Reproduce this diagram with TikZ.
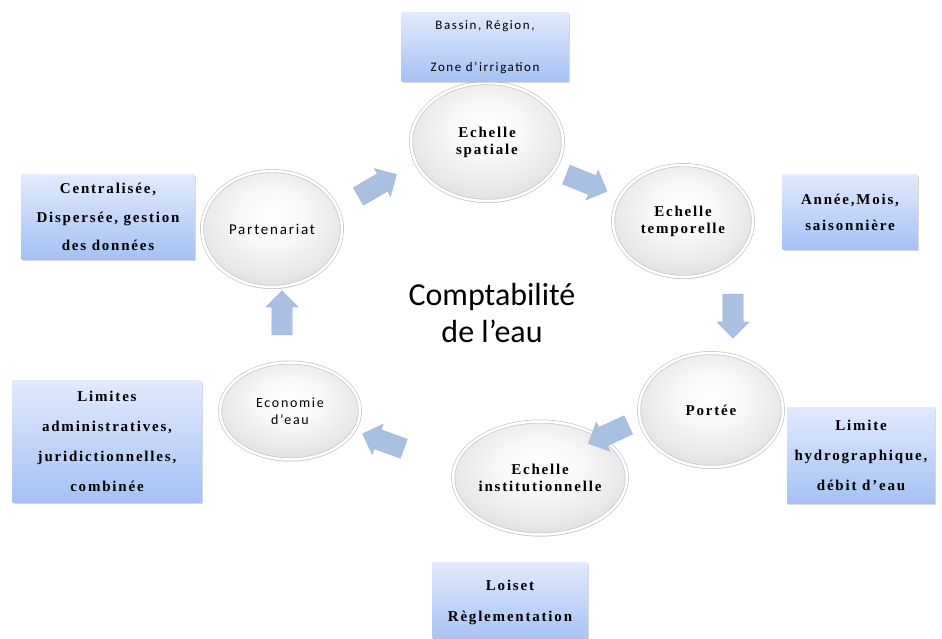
\documentclass[tikz,border=0pt]{standalone}
\usepackage{fontspec}
\usepackage{tikz}
\usetikzlibrary{shapes.geometric,shapes.arrows,shadows,calc}
\setmainfont{Liberation Serif}
\newfontfamily\calfont[LetterSpace=12]{Carlito}
\newfontfamily\titlefont{Carlito}
\newfontfamily\wideserif[LetterSpace=12]{Liberation Serif}
\definecolor{boxtop}{HTML}{E2EAFC}
\definecolor{boxbottom}{HTML}{A5C1F4}
\definecolor{flowblue}{HTML}{AAC0E2}
\pgfdeclareradialshading{bubbleshade}{\pgfpoint{0bp}{6bp}}{color(0bp)=(white); color(12bp)=(white!97!black); color(26bp)=(gray!20); color(38bp)=(gray!36); color(47bp)=(gray!52); color(56bp)=(gray!62); color(80bp)=(gray!65)}
\tikzset{
  bubble/.style={ellipse, shading=bubbleshade, draw=gray!45, double=white, double distance=2.5pt, line width=0.7pt, drop shadow={opacity=0.3, shadow xshift=0.5pt, shadow yshift=-2pt}, align=center, inner sep=0pt},
  infobox/.style={rectangle, top color=boxtop, bottom color=boxbottom, drop shadow={opacity=0.3, shadow xshift=1pt, shadow yshift=-1.5pt}, align=center, inner sep=0pt},
  flow/.style={single arrow, fill=flowblue, draw=flowblue!90!black, line width=0.3pt, minimum height=44pt, inner xsep=0pt, inner ysep=10pt, single arrow head extend=6pt},
  serifbf/.style={font=\wideserif\bfseries\fontsize{15}{17}\selectfont},
  sanslbl/.style={font=\calfont\fontsize{15}{17}\selectfont}
}
\begin{document}
\begin{tikzpicture}[x=1pt, y=-1pt]
  \useasboundingbox (0,0) rectangle (942,639);

  \node[bubble, serifbf, minimum width=152pt, minimum height=118pt] (spat) at (487,142) {Echelle\\spatiale};
  \node[bubble, serifbf, minimum width=140pt, minimum height=112pt] (temp) at (683,221) {Echelle\\temporelle};
  \node[bubble, serifbf, minimum width=144pt, minimum height=114pt] (port) at (711,410) {Portée};
  \node[bubble, serifbf, minimum width=148pt, minimum height=113pt] (inst) at (540,478) {Echelle\\institutionnelle};
  \node[bubble, sanslbl, font=\calfont\fontsize{14}{17}\selectfont, minimum width=140pt, minimum height=97pt] (eco) at (290,411) {Economie\\d’eau};
  \node[bubble, sanslbl, minimum width=140pt, minimum height=116pt] (part) at (272,229) {Partenariat};

  \node[font=\titlefont\fontsize{32}{37}\selectfont, align=center] (title) at (492,313) {Comptabilité\\de l’eau};

  \node[infobox, minimum width=167pt, minimum height=69pt, font=\calfont\fontsize{13}{42}\selectfont] (bassin) at (485,47) {Bassin, Région,\\Zone d’irrigation};
  \node[infobox, minimum width=173pt, minimum height=85pt, font=\wideserif\bfseries\fontsize{15}{28.5}\selectfont] (centr) at (108,217) {Centralisée,\\Dispersée, gestion\\des données};
  \node[infobox, minimum width=135pt, minimum height=75pt, font=\wideserif\bfseries\fontsize{15}{26}\selectfont] (annee) at (850,212) {Année,Mois,\\saisonnière};
  \node[infobox, minimum width=189pt, minimum height=122pt, font=\wideserif\bfseries\fontsize{15}{30}\selectfont] (limites) at (107,441) {Limites\\administratives,\\juridictionnelles,\\combinée};
  \node[infobox, minimum width=148pt, minimum height=96pt, font=\wideserif\bfseries\fontsize{15}{30}\selectfont] (hydro) at (861,455) {Limite\\hydrographique,\\débit d’eau};
  \node[infobox, minimum width=155pt, minimum height=80pt, font=\wideserif\bfseries\fontsize{15}{31}\selectfont] (lois) at (510,602) {Loiset\\Règlementation};

  \node[flow, rotate=30] (f1) at (373,188) {};
  \node[flow, rotate=-22] (f2) at (582,181) {};
  \node[flow, rotate=-90] (f3) at (733,311) {};
  \node[flow, rotate=205] (f4) at (613,432) {};
  \node[flow, rotate=160] (f5) at (388,443) {};
  \node[flow, rotate=90] (f6) at (282,318) {};
\end{tikzpicture}
\end{document}
